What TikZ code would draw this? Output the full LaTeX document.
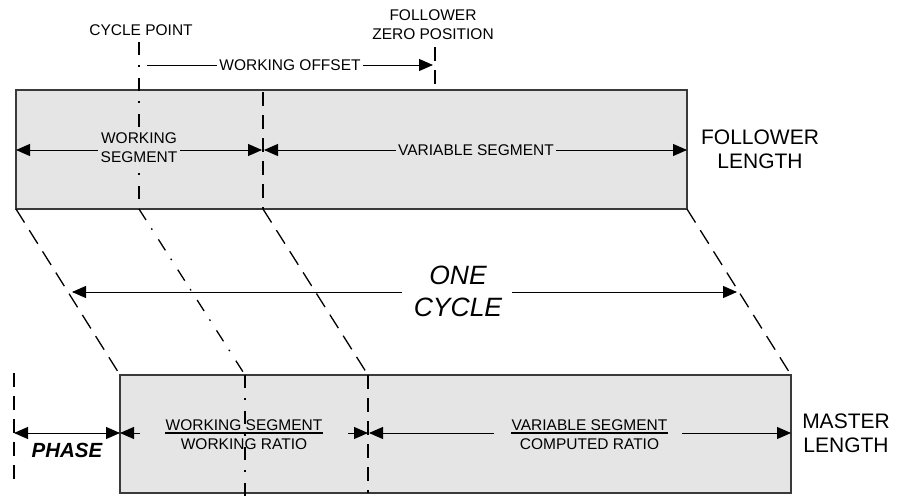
\documentclass[tikz,border=0pt]{standalone}
\usepackage{fontspec}
\setmainfont{Liberation Sans}
\usetikzlibrary{arrows.meta}
\definecolor{boxfill}{HTML}{E5E5E5}
\definecolor{boxline}{HTML}{3A3A3A}
\begin{document}
\begin{tikzpicture}[x=1pt,y=-1pt,
  boxst/.style={fill=boxfill,draw=boxline,line width=1.3pt},
  dsh/.style={line width=1.3pt,dash pattern=on 14pt off 9pt},
  dshdiag/.style={line width=1.3pt,dash pattern=on 16pt off 9pt},
  dshd/.style={line width=1.3pt,dash pattern=on 13pt off 10pt on 1.6pt off 11.4pt},
  arr/.style={line width=1pt,-{Triangle[length=14pt,width=12pt]}},
  darr/.style={line width=1pt,{Triangle[length=14pt,width=12pt]}-{Triangle[length=14pt,width=12pt]}},
  small/.style={font=\fontsize{15.5}{18.5}\selectfont,inner sep=0pt,align=center},
  big/.style={font=\fontsize{21}{24}\selectfont,inner sep=0pt,align=center},
  huge/.style={font=\fontsize{26.5}{32}\selectfont\itshape,inner sep=0pt,align=center},
  phasest/.style={font=\fontsize{20.5}{24}\selectfont\bfseries\itshape,inner sep=0pt},
  fracrule/.style={line width=1.5pt}]
\useasboundingbox (0,0) rectangle (898,498);

% coordinates
\coordinate (ftl) at (16,90);
\coordinate (fbl) at (16,209);
\coordinate (ftr) at (687,90);
\coordinate (fbr) at (687,209);
\coordinate (mtl) at (120,375);
\coordinate (mtr) at (791,375);
\coordinate (mbr) at (791,493);
\coordinate (cpt) at (139,42);
\coordinate (cpb) at (139,209);
\coordinate (mcpt) at (245,375);
\coordinate (mcpb) at (245,498);
\coordinate (wbt) at (263,92);
\coordinate (wbb) at (263,209);
\coordinate (mwbt) at (368,375);
\coordinate (mwbb) at (368,493);
\coordinate (fzt) at (435,47);
\coordinate (fzb) at (435,86);
\coordinate (pht) at (14,373);
\coordinate (phb) at (14,487);

% boxes
\path[boxst] (ftl) rectangle (fbr);
\path[boxst] (mtl) rectangle (mbr);

% vertical reference lines
\draw[dshd] (cpt) -- (cpb);
\draw[dsh] (wbt) -- (wbb);
\draw[dsh] (fzt) -- (fzb);
\draw[dshd] (mcpt) -- (mcpb);
\draw[dsh] (mwbt) -- (mwbb);
\draw[dsh] (pht) -- (phb);

% diagonals
\draw[dshdiag] (fbl) -- (mtl);
\draw[dshd] (cpb) -- (mcpt);
\draw[dshdiag] (wbb) -- (mwbt);
\draw[dshdiag] (fbr) -- (mtr);

% top labels
\node[small] (cp) at (141,30.5) {CYCLE POINT};
\node[small] (fz) at (433,24.5) {FOLLOWER\\ZERO POSITION};

% working offset
\coordinate (woS) at (147,65);
\coordinate (woE) at (433,65);
\draw[arr] (woS) -- (woE);
\node[small,fill=white,inner xsep=2pt,inner ysep=1pt] (wo) at (290,65) {WORKING OFFSET};

% follower segments
\coordinate (fwsL) at (16,150);
\coordinate (fwsR) at (262,150);
\coordinate (fvsL) at (264,150);
\coordinate (fvsR) at (687,150);
\draw[darr] (fwsL) -- (fwsR);
\draw[darr] (fvsL) -- (fvsR);
\node[small,font=\fontsize{15.5}{19}\selectfont,fill=boxfill,inner xsep=3pt,inner ysep=2pt] (fws) at (139,148) {WORKING\\SEGMENT};
\node[small,fill=boxfill,inner xsep=2pt,inner ysep=1pt] (fvs) at (476,150) {VARIABLE SEGMENT};

\node[big] (fl) at (760,149.5) {FOLLOWER\\LENGTH};

% one cycle
\node[huge] (oc) at (458,291.5) {ONE\\CYCLE};
\coordinate (ocLs) at (402,292);
\coordinate (ocL) at (72,292);
\coordinate (ocRs) at (512,292);
\coordinate (ocR) at (737,292);
\draw[arr] (ocLs) -- (ocL);
\draw[arr] (ocRs) -- (ocR);

% master segments
\coordinate (phL) at (14,433);
\coordinate (phR) at (120,433);
\draw[darr] (phL) -- (phR);
\node[phasest] (ph) at (67,450.5) {PHASE};

\coordinate (mws1) at (140,433);
\coordinate (mws2) at (348,433);
\coordinate (mwsR) at (368,433);
\draw[arr] (mws1) -- (phR);
\draw[arr] (mws2) -- (mwsR);
\node[small,anchor=base] (mwst) at (244,430) {WORKING SEGMENT};
\node[small,anchor=base] (mwsb) at (244,449.5) {WORKING RATIO};
\draw[fracrule] (mwst.west |- mwsR) -- (mwst.east |- mwsR);

\coordinate (mvsL) at (369,433);
\coordinate (mvs1) at (494,433);
\coordinate (mvs2) at (682,433);
\coordinate (mvsR) at (791,433);
\draw[arr] (mvs1) -- (mvsL);
\draw[arr] (mvs2) -- (mvsR);
\node[small,anchor=base] (mvst) at (589.5,430) {VARIABLE SEGMENT};
\node[small,anchor=base] (mvsb) at (589.5,449.5) {COMPUTED RATIO};
\draw[fracrule] (mvst.west |- mvsR) -- (mvst.east |- mvsR);

\node[big] (ml) at (846,433.5) {MASTER\\LENGTH};
\end{tikzpicture}
\end{document}
